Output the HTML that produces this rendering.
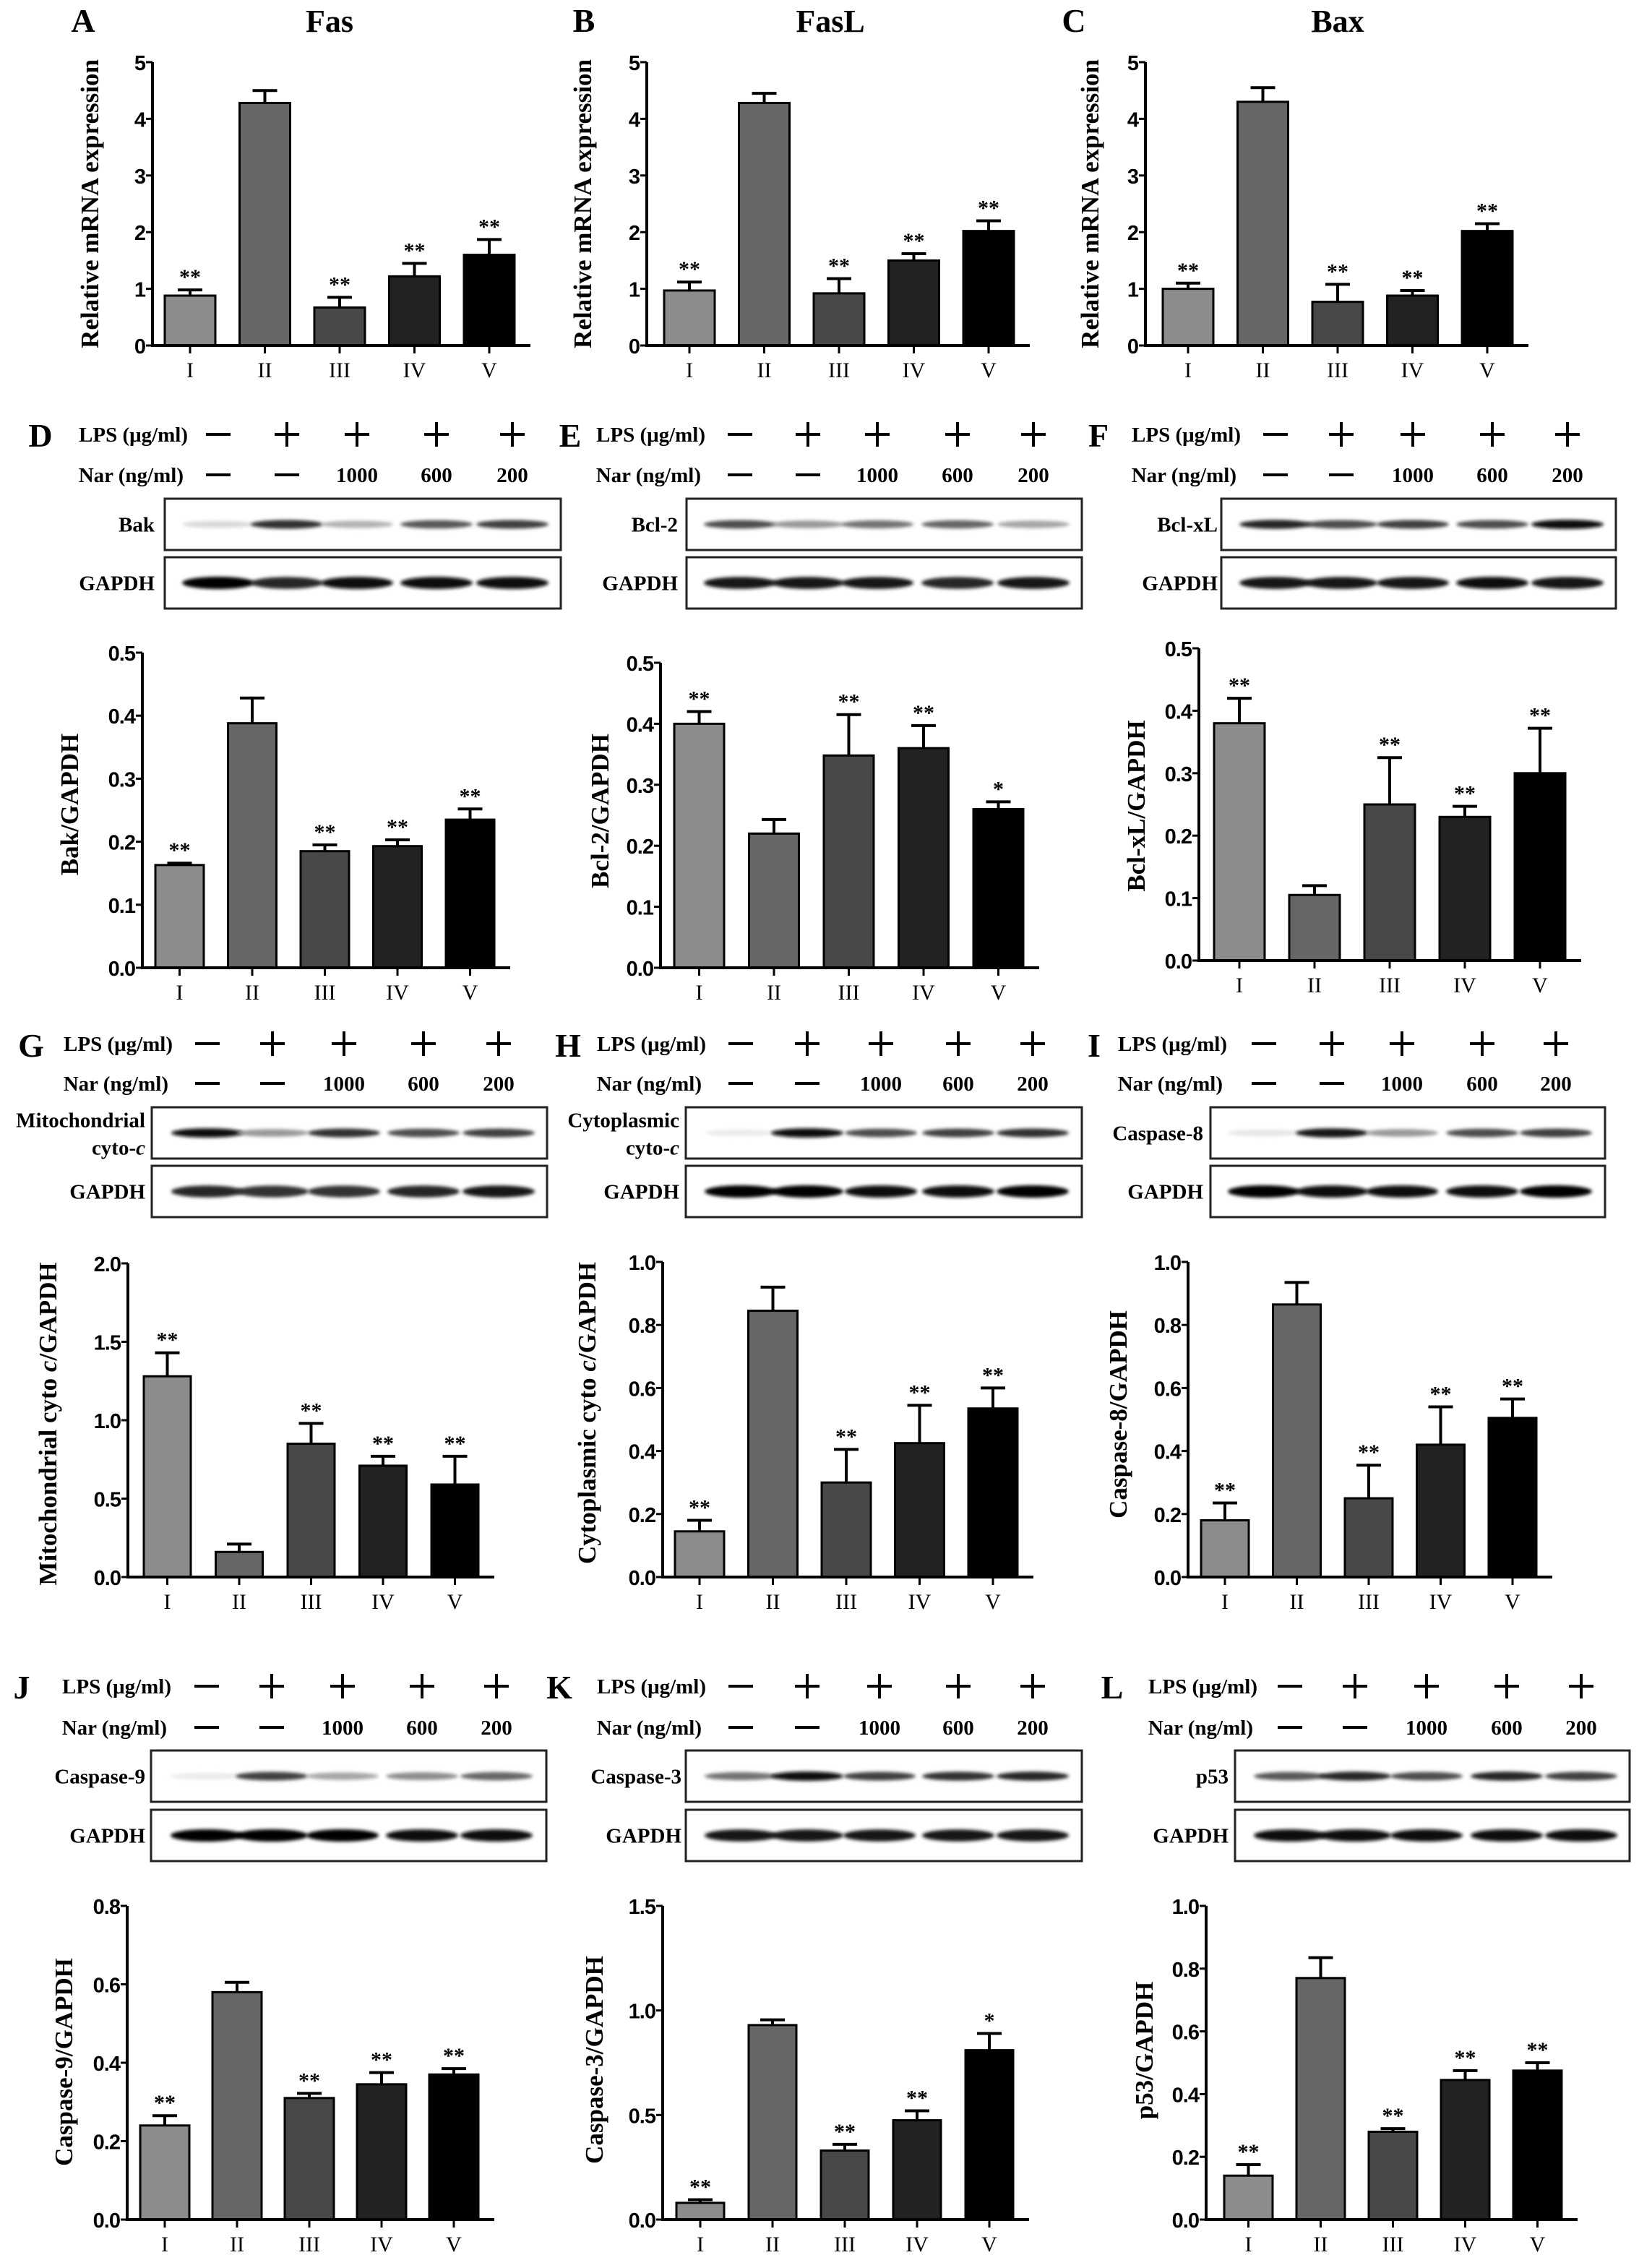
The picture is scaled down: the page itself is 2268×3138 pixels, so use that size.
<!DOCTYPE html>
<html><head><meta charset="utf-8"><title>Naringenin apoptosis figure</title>
<style>
html,body{margin:0;padding:0;background:#fff;}
svg{display:block;}
.tick{font-family:"Liberation Sans",Arial,sans-serif;font-weight:bold;font-size:29px;letter-spacing:-1px;}
.cat{font-family:"Liberation Serif",serif;font-size:30px;}
.ylab{font-family:"Liberation Serif",serif;font-weight:bold;font-size:35px;}
.lbl{font-family:"Liberation Serif",serif;font-weight:bold;font-size:29px;}
.letter{font-family:"Liberation Serif",serif;font-weight:bold;font-size:46px;}
.title{font-family:"Liberation Serif",serif;font-weight:bold;font-size:44px;}
.star{font-family:"Liberation Serif",serif;font-weight:bold;font-size:30px;}
</style></head>
<body>
<svg id="fig" width="2268" height="3138" viewBox="0 0 2268 3138" xmlns="http://www.w3.org/2000/svg">
<defs><filter id="blur" x="-20%" y="-100%" width="140%" height="300%"><feGaussianBlur stdDeviation="2.5"/></filter></defs>
</svg>
<script>
// ---- data ----
const categories=["I","II","III","IV","V"];
const lpsRow=["-","+","+","+","+"];
const narRow=["-","-","1000","600","200"];
const fasMean=[0.88,4.28,0.67,1.22,1.60];
const fasErr=[0.10,0.22,0.18,0.23,0.27];
const fasStars=["**","","**","**","**"];
const faslMean=[0.97,4.28,0.92,1.50,2.02];
const faslErr=[0.15,0.17,0.26,0.12,0.18];
const faslStars=["**","","**","**","**"];
const baxMean=[1.00,4.30,0.77,0.88,2.02];
const baxErr=[0.10,0.25,0.31,0.09,0.13];
const baxStars=["**","","**","**","**"];
const bakMean=[0.163,0.388,0.185,0.193,0.235];
const bakErr=[0.003,0.040,0.010,0.010,0.017];
const bakStars=["**","","**","**","**"];
const bcl2Mean=[0.40,0.22,0.348,0.36,0.26];
const bcl2Err=[0.02,0.023,0.067,0.037,0.012];
const bcl2Stars=["**","","**","**","*"];
const bclxlMean=[0.38,0.105,0.25,0.23,0.30];
const bclxlErr=[0.04,0.015,0.075,0.017,0.072];
const bclxlStars=["**","","**","**","**"];
const mitoMean=[1.28,0.16,0.85,0.71,0.59];
const mitoErr=[0.15,0.05,0.13,0.06,0.18];
const mitoStars=["**","","**","**","**"];
const cytoMean=[0.145,0.845,0.30,0.425,0.535];
const cytoErr=[0.035,0.075,0.105,0.12,0.065];
const cytoStars=["**","","**","**","**"];
const casp8Mean=[0.18,0.865,0.25,0.42,0.505];
const casp8Err=[0.055,0.07,0.105,0.12,0.06];
const casp8Stars=["**","","**","**","**"];
const casp9Mean=[0.24,0.58,0.31,0.345,0.37];
const casp9Err=[0.025,0.025,0.012,0.03,0.015];
const casp9Stars=["**","","**","**","**"];
const casp3Mean=[0.08,0.93,0.33,0.475,0.81];
const casp3Err=[0.015,0.025,0.03,0.045,0.08];
const casp3Stars=["**","","**","**","*"];
const p53Mean=[0.14,0.77,0.28,0.445,0.475];
const p53Err=[0.035,0.065,0.01,0.03,0.025];
const p53Stars=["**","","**","**","**"];
// band intensities (0-1 darkness) per lane
const bakBand=[0.15,0.8,0.3,0.65,0.75];
const bcl2Band=[0.7,0.4,0.55,0.6,0.35];
const bclxlBand=[0.85,0.7,0.75,0.7,0.95];
const mitoBand=[0.95,0.4,0.8,0.7,0.75];
const cytoBand=[0.08,0.95,0.7,0.75,0.8];
const casp8Band=[0.1,0.9,0.4,0.7,0.75];
const casp9Band=[0.08,0.75,0.35,0.45,0.6];
const casp3Band=[0.55,0.95,0.75,0.8,0.85];
const p53Band=[0.65,0.85,0.7,0.85,0.75];
const gapdhD=[1,0.85,0.95,0.95,0.95];
const gapdhE=[0.9,0.9,0.9,0.85,0.9];
const gapdhF=[0.9,0.9,0.9,0.95,0.9];
const gapdhG=[0.85,0.8,0.8,0.85,0.9];
const gapdhH=[1,1,0.95,0.95,1];
const gapdhI=[1,0.95,0.95,0.95,1];
const gapdhJ=[1,1,1,0.95,0.95];
const gapdhK=[0.9,0.9,0.9,0.9,0.9];
const gapdhL=[0.95,0.95,0.95,0.95,0.95];

const barFills=["#8c8c8c","#666666","#484848","#222222","#000000"];
const svg=document.getElementById('fig');
const NS="http://www.w3.org/2000/svg";
function mk(tag,attrs,parent){const e=document.createElementNS(NS,tag);for(const k in attrs)e.setAttribute(k,attrs[k]);(parent||svg).appendChild(e);return e;}
function txt(s,attrs,cls,parent){const e=mk('text',attrs,parent);e.setAttribute('class',cls);e.textContent=s;return e;}

// ---- chart panels ----
const charts=[
 {id:'a',ax:211,y0:478,yTop:86,max:5,step:1,dec:0,first:228,pitch:103.5,bw:70,m:fasMean,e:fasErr,s:fasStars,yl:'Relative mRNA expression',ylx:124,yly:282},
 {id:'b',ax:895,y0:478,yTop:86,max:5,step:1,dec:0,first:919,pitch:103.5,bw:70,m:faslMean,e:faslErr,s:faslStars,yl:'Relative mRNA expression',ylx:806,yly:282},
 {id:'c',ax:1585,y0:478,yTop:86,max:5,step:1,dec:0,first:1609,pitch:103.5,bw:70,m:baxMean,e:baxErr,s:baxStars,yl:'Relative mRNA expression',ylx:1508,yly:282},
 {id:'d',ax:197,y0:1339,yTop:903,max:0.5,step:0.1,dec:1,first:215,pitch:100.5,bw:67,m:bakMean,e:bakErr,s:bakStars,yl:'Bak/GAPDH',ylx:96,yly:1113},
 {id:'e',ax:914,y0:1339,yTop:917,max:0.5,step:0.1,dec:1,first:933,pitch:103.5,bw:69,m:bcl2Mean,e:bcl2Err,s:bcl2Stars,yl:'Bcl-2/GAPDH',ylx:830,yly:1122},
 {id:'f',ax:1659,y0:1329,yTop:897,max:0.5,step:0.1,dec:1,first:1680,pitch:104,bw:70,m:bclxlMean,e:bclxlErr,s:bclxlStars,yl:'Bcl-xL/GAPDH',ylx:1572,yly:1115},
 {id:'g',ax:177,y0:2182,yTop:1748,max:2,step:0.5,dec:1,first:199,pitch:99.5,bw:65,m:mitoMean,e:mitoErr,s:mitoStars,yl:'MITO',ylx:66,yly:1970},
 {id:'h',ax:917,y0:2182,yTop:1746,max:1,step:0.2,dec:1,first:934,pitch:101.5,bw:68,m:cytoMean,e:cytoErr,s:cytoStars,yl:'CYTO',ylx:812,yly:1955},
 {id:'i',ax:1644,y0:2182,yTop:1746,max:1,step:0.2,dec:1,first:1662,pitch:99.5,bw:66,m:casp8Mean,e:casp8Err,s:casp8Stars,yl:'Caspase-8/GAPDH',ylx:1547,yly:1957},
 {id:'j',ax:176,y0:3071,yTop:2637,max:0.8,step:0.2,dec:1,first:194,pitch:100,bw:68,m:casp9Mean,e:casp9Err,s:casp9Stars,yl:'Caspase-9/GAPDH',ylx:88,yly:2853},
 {id:'k',ax:917,y0:3071,yTop:2637,max:1.5,step:0.5,dec:1,first:936,pitch:100,bw:66,m:casp3Mean,e:casp3Err,s:casp3Stars,yl:'Caspase-3/GAPDH',ylx:822,yly:2850},
 {id:'l',ax:1669,y0:3071,yTop:2637,max:1,step:0.2,dec:1,first:1694,pitch:100,bw:67,m:p53Mean,e:p53Err,s:p53Stars,yl:'p53/GAPDH',ylx:1583,yly:2837}
];

charts.forEach(p=>{
 const g=mk('g',{});
 
 
 const yS=v=>p.y0-v/p.max*(p.y0-p.yTop);
 const xS=i=>p.first+i*p.pitch;
 const xEnd=xS(4)+p.bw+22;
 p.m.forEach((v,i)=>{
  const b=mk('rect',{x:xS(i),y:yS(v),width:p.bw,height:p.y0-yS(v),fill:barFills[i],stroke:'#000','stroke-width':3},g);
  
  
  const cx=xS(i)+p.bw/2, yt=yS(v+p.e[i]);
  const eb=mk('path',{d:`M${cx} ${yS(v)}V${yt}M${cx-17} ${yt}H${cx+17}`,stroke:'#000','stroke-width':4,fill:'none'},g);
  
  
  if(p.s[i]){
   const st=txt(p.s[i],{x:cx,y:yt-8,'text-anchor':'middle'},'star',g);
   
   
  }
  const tk=mk('line',{x1:cx,x2:cx,y1:p.y0,y2:p.y0+11,stroke:'#000','stroke-width':3},g);
  
  
  const cl=txt(categories[i],{x:cx,y:p.y0+44,'text-anchor':'middle'},'cat',g);
  
  
 });
 const axes=mk('path',{d:`M${p.ax} ${p.yTop}V${p.y0}H${xEnd}`,stroke:'#000','stroke-width':4,fill:'none'},g);
 
 
 const n=Math.round(p.max/p.step);
 for(let k=0;k<=n;k++){
  const v=k*p.step, y=yS(v);
  const t=mk('line',{x1:p.ax-9,x2:p.ax,y1:y,y2:y,stroke:'#000','stroke-width':3},g);
  
  
  const tl=txt(v.toFixed(p.dec),{x:p.ax-10,y:y+11,'text-anchor':'end'},'tick',g);
  
  
 }
 const yt=mk('text',{x:0,y:0,'text-anchor':'middle',transform:`translate(${p.ylx+12},${p.yly}) rotate(-90)`},g);
 yt.setAttribute('class','ylab');
 
 
 if(p.yl==='MITO'||p.yl==='CYTO'){
  const a=document.createElementNS(NS,'tspan');a.textContent=(p.yl==='MITO'?'Mitochondrial':'Cytoplasmic')+' cyto ';yt.appendChild(a);
  const c=document.createElementNS(NS,'tspan');c.setAttribute('font-style','italic');c.textContent='c';yt.appendChild(c);
  const d=document.createElementNS(NS,'tspan');d.textContent='/GAPDH';yt.appendChild(d);
 } else yt.textContent=p.yl;
});

[['A',115,'Fas',456],['B',808,'FasL',1149],['C',1486,'Bax',1851]].forEach(r=>{
 const l=txt(r[0],{x:r[1],y:44,'text-anchor':'middle'},'letter');
 
 
 const t=txt(r[2],{x:r[3],y:44,'text-anchor':'middle'},'title');
 
 
});

const blots=[
 {L:'D',lx:56,ly:618,tr:260,sym:[302,397,494,604,709],r1:601,r2:657,bx:228,bx2:776,b1:690,b2:771,bh:71,name:['Bak'],nr:214,band:bakBand,gap:gapdhD},
 {L:'E',lx:789,ly:618,tr:976,sym:[1024,1118,1214,1325,1430],r1:601,r2:657,bx:950,bx2:1497,b1:690,b2:771,bh:71,name:['Bcl-2'],nr:938,band:bcl2Band,gap:gapdhE},
 {L:'F',lx:1520,ly:618,tr:1717,sym:[1765,1856,1955,2065,2169],r1:601,r2:657,bx:1690,bx2:2236,b1:690,b2:771,bh:71,name:['Bcl-xL'],nr:1685,band:bclxlBand,gap:gapdhF},
 {L:'G',lx:43,ly:1462,tr:239,sym:[287,377,476,586,690],r1:1444,r2:1499,bx:210,bx2:757,b1:1532,b2:1613,bh:71,name:['Mitochondrial','cyto-'],nr:201,band:mitoBand,gap:gapdhG},
 {L:'H',lx:786,ly:1462,tr:977,sym:[1025,1117,1219,1326,1429],r1:1444,r2:1499,bx:949,bx2:1497,b1:1532,b2:1613,bh:71,name:['Cytoplasmic','cyto-'],nr:940,band:cytoBand,gap:gapdhH},
 {L:'I',lx:1514,ly:1462,tr:1698,sym:[1749,1843,1940,2051,2153],r1:1444,r2:1499,bx:1675,bx2:2221,b1:1532,b2:1613,bh:71,name:['Caspase-8'],nr:1665,band:casp8Band,gap:gapdhI},
 {L:'J',lx:30,ly:2350,tr:237,sym:[286,376,474,584,687],r1:2333,r2:2390,bx:209,bx2:756,b1:2422,b2:2504,bh:71,name:['Caspase-9'],nr:201,band:casp9Band,gap:gapdhJ},
 {L:'K',lx:774,ly:2350,tr:977,sym:[1025,1117,1217,1326,1429],r1:2333,r2:2390,bx:949,bx2:1497,b1:2422,b2:2504,bh:71,name:['Caspase-3'],nr:943,band:casp3Band,gap:gapdhK},
 {L:'L',lx:1539,ly:2350,tr:1740,sym:[1785,1875,1974,2085,2188],r1:2333,r2:2390,bx:1709,bx2:2255,b1:2422,b2:2504,bh:71,name:['p53'],nr:1700,band:p53Band,gap:gapdhL}
];
function sign(g,s,x,y){
 if(s==='-'){const e=mk('line',{x1:x-17,x2:x+17,y1:y,y2:y,stroke:'#000','stroke-width':4},g);return e;}
 if(s==='+'){const e=mk('path',{d:`M${x-17} ${y}H${x+17}M${x} ${y-17}V${y+17}`,stroke:'#000','stroke-width':4,fill:'none'},g);return e;}
 return txt(s,{x:x,y:y+10,'text-anchor':'middle'},'lbl',g);
}
blots.forEach(b=>{
 const g=mk('g',{});
 
 
 const l=txt(b.L,{x:b.lx,y:b.ly,'text-anchor':'middle'},'letter',g);
 
 
 const t1=txt('LPS (\u03bcg/ml)',{x:b.tr,y:b.r1+10,'text-anchor':'end'},'lbl',g);
 
 
 const t2=txt('Nar (ng/ml)',{x:b.tr-6,y:b.r2+10,'text-anchor':'end'},'lbl',g);
 
 
 b.sym.forEach((x,i)=>{
  const s1=sign(g,lpsRow[i],x,b.r1);
  
  
  const s2=sign(g,narRow[i],x,b.r2);
  
  
 });
 [[b.b1,b.band,9,b.name],[b.b2,b.gap,13,['GAPDH']]].forEach((row,ri)=>{
  const box=mk('rect',{x:b.bx,y:row[0],width:b.bx2-b.bx,height:b.bh,fill:'#fff',stroke:'#222','stroke-width':3},g);
  
  
  const cy=row[0]+b.bh/2;
  row[1].forEach((d,i)=>{
   const sh=Math.round(255*(1-d));
   const e=mk('ellipse',{cx:b.sym[i],cy:cy,rx:50,ry:row[2]/2+d*2,fill:`rgb(${sh},${sh},${sh})`,filter:'url(#blur)'},g);
   
   
  });
  const nm=row[3];
  if(nm.length===1){
   const n=txt(nm[0],{x:b.nr,y:cy+10,'text-anchor':'end'},'lbl',g);
   
   
  } else {
   const n1=txt(nm[0],{x:b.nr,y:cy-8,'text-anchor':'end'},'lbl',g);
   
   
   const n2=mk('text',{x:b.nr,y:cy+30,'text-anchor':'end'},g);
   n2.setAttribute('class','lbl');
   
   
   n2.textContent=nm[1];
   const it=document.createElementNS(NS,'tspan');it.setAttribute('font-style','italic');it.textContent='c';n2.appendChild(it);
  }
 });
});
</script>
</body></html>
